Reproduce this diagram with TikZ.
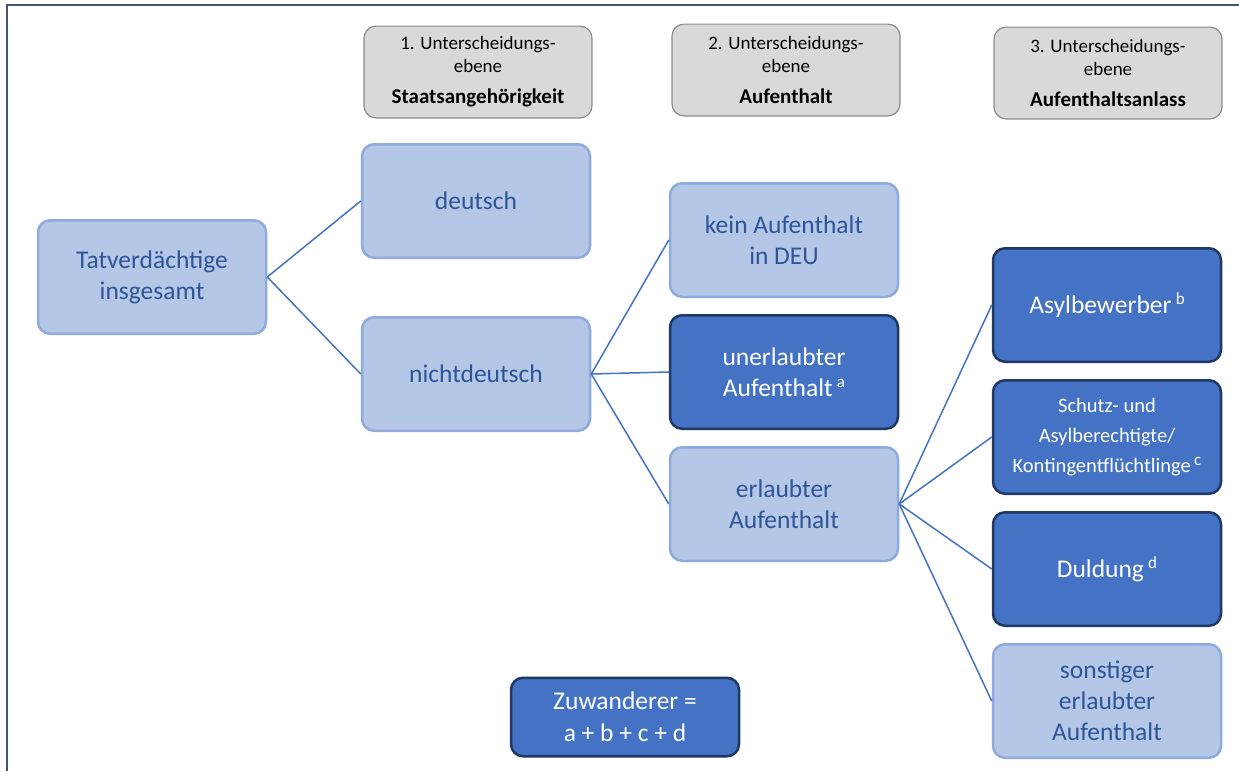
\documentclass[tikz,border=0pt]{standalone}
\usepackage{fontspec}
\setmainfont{Carlito}
\usepackage{xcolor}
\usetikzlibrary{positioning}
\definecolor{lightfill}{HTML}{B4C7E7}
\definecolor{lightedge}{HTML}{8FAADC}
\definecolor{lighttext}{HTML}{2F5597}
\definecolor{darkfill}{HTML}{4472C4}
\definecolor{darkedge}{HTML}{1F3864}
\definecolor{headfill}{HTML}{D9D9D9}
\definecolor{headedge}{HTML}{8C8C8C}
\definecolor{framecol}{HTML}{44546A}
\tikzset{
  box/.style={ % common shape of all boxes
    rectangle, rounded corners=12pt, align=center,
    minimum width=228pt, minimum height=113.5pt, inner sep=2pt
  },
  light/.style={ % light blue category
    box, fill=lightfill, draw=lightedge, line width=2.5pt, text=lighttext,
    font={\fontsize{25.5}{31}\selectfont}
  },
  dark/.style={ % dark blue category (Zuwanderer)
    box, fill=darkfill, draw=darkedge, line width=2.5pt, text=white,
    font={\fontsize{25.5}{31}\selectfont}
  },
  head/.style={ % grey level headers
    box, minimum height=91.8pt, fill=headfill, draw=headedge, line width=1.2pt,
    text=black, font={\fontsize{19}{23}\selectfont}
  },
  link/.style={draw=darkfill, line width=1.5pt}
}
\newcommand{\headline}[1]{{\fontsize{21}{23}\selectfont\bfseries #1}}
\newcommand{\supletter}[1]{\,\raisebox{0.75ex}{\fontsize{17}{17}\selectfont #1}}
\begin{document}
\begin{tikzpicture}[x=1pt, y=-1pt, node distance=16pt]
  \useasboundingbox (0,0) rectangle (1239,771);
  \draw[framecol, line width=2pt] (7,771) -- (7,5) -- (1239,5);

  % level headers
  \node[head] (head1) at (478,72) {1. Unterscheidungs-\\ebene\\[8pt]\headline{Staatsangehörigkeit}};
  \node[head] (head2) at (786,70) {2. Unterscheidungs-\\ebene\\[8pt]\headline{Aufenthalt}};
  \node[head] (head3) at (1108,73) {3. Unterscheidungs-\\ebene\\[8pt]\headline{Aufenthaltsanlass}};

  % tree
  \node[light] (total) at (152,277) {Tatverdächtige\\insgesamt};
  \node[light] (deutsch) at (476,201) {deutsch};
  \node[light] (nichtdeutsch) [below=57pt of deutsch] {nichtdeutsch};

  \node[light] (kein) at (784,240) {kein Aufenthalt\\in DEU};
  \node[dark] (unerlaubt) [below=of kein] {unerlaubter\\Aufenthalt\supletter{a}};
  \node[light] (erlaubt) [below=of unerlaubt] {erlaubter\\Aufenthalt};

  \node[dark] (asyl) at (1107,305) {Asylbewerber\supletter{b}};
  \node[dark, font={\fontsize{20.5}{30}\selectfont}] (schutz) [below=of asyl]
    {Schutz- und\\Asylberechtigte/\\Kontingentflüchtlinge\supletter{c}};
  \node[dark] (duldung) [below=of schutz] {Duldung\supletter{d}};
  \node[light] (sonst) [below=of duldung] {sonstiger\\erlaubter\\Aufenthalt};

  \node[dark, minimum height=78.5pt, font={\fontsize{25.5}{32}\selectfont}] (zuw) at (625,717) {Zuwanderer =\\a + b + c + d};

  % connectors
  \foreach \to in {deutsch, nichtdeutsch}
    \draw[link] (total.east) -- (\to.west);
  \foreach \to in {kein, unerlaubt, erlaubt}
    \draw[link] (nichtdeutsch.east) -- (\to.west);
  \foreach \to in {asyl, schutz, duldung, sonst}
    \draw[link] (erlaubt.east) -- (\to.west);
\end{tikzpicture}
\end{document}
